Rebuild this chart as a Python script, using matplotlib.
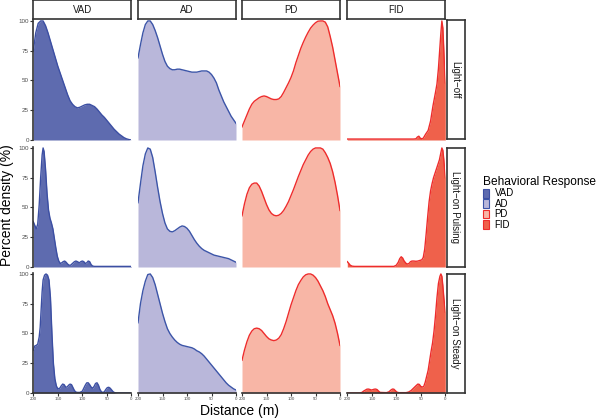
import matplotlib
matplotlib.use('Agg')
import matplotlib.pyplot as plt
from matplotlib.patches import Patch

plt.rcParams['font.family'] = ['Liberation Sans', 'DejaVu Sans']

### data: percent density vs distance (m)
responses = ['VAD', 'AD', 'PD', 'FID']
lights = ['Light\u2212off', 'Light\u2212on Pulsing', 'Light\u2212on Steady']
x_ticks = [200, 150, 100, 50, 0]
y_ticks = [0, 25, 50, 75, 100]

dist5 = [200, 195, 190, 185, 180, 175, 170, 165, 160, 155, 150, 145, 140, 135, 130, 125, 120,
         115, 110, 105, 100, 95, 90, 85, 80, 75, 70, 65, 60, 55, 50, 45, 40, 35, 30, 25, 20,
         15, 10, 5, 0]

vad_off = [75, 90, 98, 100, 100, 96, 90, 83, 76, 69, 62, 56, 50, 44, 38, 33, 30, 28, 27, 27.5,
           28.5, 29.5, 30, 30, 29, 28, 26, 23.5, 21, 19, 16.5, 14, 11.5, 9, 7, 5, 3.5, 2, 1, 0.4, 0]
ad_off = [69, 80, 90, 97, 100, 100, 97, 92, 86, 79, 72, 66, 62, 60, 59, 59, 59.5, 59.5, 59, 58.5,
          58, 57.5, 57, 57, 57, 57.5, 58, 58, 58, 57, 55, 52, 48, 42, 37, 32, 28, 24, 20, 17, 14]
pd_off = [11, 16, 21, 26, 30, 32.5, 34, 35.5, 36.5, 37, 36.5, 35.5, 34.5, 34, 34, 34.5, 36.5, 40,
          44, 48, 52.5, 58, 65, 71, 77, 82, 86.5, 90.5, 94, 96.5, 98.5, 99.8, 100, 100, 99, 95, 87,
          78, 67, 56, 45]
fid_off_d = [200, 100, 65, 60, 57, 54, 51, 48, 45, 40, 35, 30, 25, 20, 17, 14, 11, 9, 7, 5, 3, 1, 0]
fid_off = [0.8, 0.8, 0.8, 1, 2.5, 3.2, 1.5, 1, 1.5, 5, 8, 16, 29, 40, 47, 60, 78, 90, 100, 94, 75,
           55, 48]

vad_pulse_d = [200, 197, 194, 191, 188, 185, 182, 180, 178, 175, 172, 169, 166, 163, 160, 157, 154,
               151, 148, 145, 142, 139, 136, 133, 130, 127, 124, 120, 116, 113, 110, 106, 103, 100,
               97, 94, 91, 88, 85, 82, 79, 75, 0]
vad_pulse = [38, 35, 32, 36, 52, 75, 94, 100, 97, 82, 62, 48, 41, 37, 32, 24, 16, 9, 5, 3, 3.5, 4.5,
             5, 4, 2.5, 1.5, 1.5, 3, 4.5, 5, 4.5, 3.5, 4.5, 5, 4.5, 3, 3.5, 5, 4.5, 2, 0.8, 0.5, 0.5]
ad_pulse = [54, 70, 85, 95, 100, 99, 92, 80, 67, 55, 45, 37, 32, 30, 29.5, 30.5, 32, 33.5, 34.5, 34,
            32.5, 30, 26.5, 23, 20, 17.5, 15.5, 14, 13, 12, 11, 10, 9.5, 9, 8.5, 8, 7.5, 7, 6, 5, 4]
pd_pulse = [43, 53, 61, 66.5, 69.5, 70.5, 70.5, 68, 63.5, 58, 52.5, 48, 45, 43.5, 43, 43.5, 45,
            47.5, 51, 55, 60, 65, 70.5, 76, 81, 86, 90, 94, 97, 99, 100, 100, 100, 99, 96, 92, 87,
            80, 71, 60, 47.5]
fid_pulse_d = [200, 197, 194, 190, 185, 105, 100, 96, 93, 90, 87, 84, 80, 77, 74, 71, 68, 64, 60,
               56, 52, 48, 45, 42, 39, 36, 33, 30, 27, 24, 20, 16, 12, 9, 7, 5, 3, 1, 0]
fid_pulse = [4.5, 3, 1.5, 0.7, 0.5, 0.5, 1.5, 4, 7, 8.6, 7.5, 5, 3, 2.5, 3, 4.5, 5, 5, 4.8, 5, 5.5,
             6, 8, 15, 28, 42, 55, 64, 70, 75, 80, 85, 90, 96, 100, 98, 90, 80, 75]

vad_steady_d = [200, 197, 194, 191, 188, 186, 184, 182, 180, 177, 174, 171, 168, 165, 162, 159,
                156, 153, 150, 146, 143, 140, 137, 134, 131, 128, 125, 122, 119, 116, 113, 110,
                105, 100, 97, 94, 91, 88, 85, 82, 79, 76, 73, 70, 67, 64, 61, 58, 55, 52, 49, 46,
                43, 40, 37, 34, 30, 0]
vad_steady = [36, 39.5, 40, 41, 47, 55, 70, 85, 95, 99, 100, 99, 95, 80, 50, 25, 12, 6, 3.5, 4, 6,
              7.5, 7, 5, 5, 6.5, 7.5, 7, 4.5, 2, 0.8, 0.5, 0.5, 1.5, 4, 6.5, 8.5, 8.6, 7, 5, 4, 5.5,
              8, 8.6, 6.5, 3, 1, 0.5, 1, 3, 4.5, 4.8, 4, 2.5, 1, 0.3, 0, 0]
ad_steady = [59, 75, 86, 94, 99.5, 100, 97, 91, 83, 75, 67, 60, 54, 50, 47, 44.5, 42.5, 41, 40,
             39.5, 39, 38.5, 38, 37, 35.5, 34.5, 33, 31, 28.5, 26, 23.5, 21, 18.5, 16, 13.5, 11,
             8.5, 6.5, 5, 3.5, 2.5]
pd_steady = [27.5, 36, 43, 48.5, 52, 54, 54.5, 54, 52.5, 50, 47.5, 45.5, 44.5, 44, 44.5, 46, 49,
             54, 60, 67, 74, 80, 86, 91, 94.5, 97.5, 99.3, 100, 100, 99, 97, 94, 90, 86, 81, 75,
             70, 65, 58.5, 50, 40]
fid_steady_d = [200, 175, 170, 167, 163, 160, 157, 154, 151, 148, 145, 142, 139, 136, 133, 120,
                115, 111, 108, 105, 102, 99, 95, 80, 75, 70, 65, 60, 56, 53, 50, 47, 44, 41, 38,
                35, 32, 29, 26, 23, 20, 17, 14, 11, 9, 7, 5, 3, 1, 0]
fid_steady = [0, 0, 0.5, 1.5, 2.5, 3.2, 3.3, 3, 2.5, 2.8, 3.2, 3.3, 2.8, 1.5, 0.5, 0.3, 1, 2.5,
              3.3, 3.2, 2, 0.8, 0.3, 0.3, 0.8, 2, 4, 6, 7.5, 7.2, 5.5, 5, 5.5, 9, 14, 19, 27, 35,
              42, 52, 65, 80, 92, 98, 100, 98, 90, 80, 72, 68]

panels = [
    [(dist5, vad_off), (dist5, ad_off), (dist5, pd_off), (fid_off_d, fid_off)],
    [(vad_pulse_d, vad_pulse), (dist5, ad_pulse), (dist5, pd_pulse), (fid_pulse_d, fid_pulse)],
    [(vad_steady_d, vad_steady), (dist5, ad_steady), (dist5, pd_steady), (fid_steady_d, fid_steady)],
]

fills = ['#5E6BAF', '#B9B7DA', '#F8B6A6', '#EF614B']
lines = ['#3C4FA3', '#3C55A8', '#EE2C2C', '#EE2C2C']
dark = '#333333'

W, H = 604, 419
fig = plt.figure(figsize=(W / 100, H / 100), dpi=100)


def px_axes(x, y, w, h):
    # axes from pixel box (top-left origin)
    return fig.add_axes([x / W, 1 - (y + h) / H, w / W, h / H])


col_left = [33.3, 138, 242, 347.3]
row_top = [20, 147, 273]
pw, ph = 98, 120

for r in range(3):
    for c in range(4):
        ax = px_axes(col_left[c], row_top[r], pw, ph)
        d, v = panels[r][c]
        ax.fill_between(d, v, 0, color=fills[c], lw=0)
        ax.plot(d, v, color=lines[c], lw=1.0)
        ax.set_xlim(200, 0)
        ax.set_ylim(0, 100.8)
        for s in ax.spines.values():
            s.set_visible(False)
        if c == 0:
            ax.spines['left'].set_visible(True)
            ax.spines['left'].set_color(dark)
            ax.spines['left'].set_linewidth(1.2)
            ax.set_yticks(y_ticks)
            ax.tick_params(axis='y', length=2, width=0.8, color=dark, labelsize=4.5,
                           labelcolor='#4d4d4d', pad=1)
        else:
            ax.set_yticks([])
        if r == 2:
            ax.spines['bottom'].set_visible(True)
            ax.spines['bottom'].set_color(dark)
            ax.spines['bottom'].set_linewidth(1.2)
            ax.set_xticks(x_ticks)
            ax.tick_params(axis='x', length=2, width=0.8, color=dark, labelsize=3.2,
                           labelcolor='#4d4d4d', pad=1)
        else:
            ax.set_xticks([])

### strips
for c in range(4):
    sx = px_axes(col_left[c], 0.5, pw, 18.5)
    sx.set_xticks([])
    sx.set_yticks([])
    for s in sx.spines.values():
        s.set_color(dark)
        s.set_linewidth(1.2)
    sx.text(0.5, 0.5, responses[c], ha='center', va='center', fontsize=7, color='#1a1a1a',
            transform=sx.transAxes)

for r in range(3):
    sx = px_axes(446.5, row_top[r] + 0.5, 18, ph - 1)
    sx.set_xticks([])
    sx.set_yticks([])
    for s in sx.spines.values():
        s.set_color(dark)
        s.set_linewidth(1.2)
    sx.text(0.5, 0.5, lights[r], ha='center', va='center', rotation=-90, fontsize=7,
            color='#1a1a1a', transform=sx.transAxes)

fig.text(7 / W, 1 - 205 / H, 'Percent density (%)', rotation=90, ha='center', va='center',
         fontsize=10)
fig.text(240 / W, 1 - 411 / H, 'Distance (m)', ha='center', va='center', fontsize=10)

handles = [Patch(facecolor=fills[i], edgecolor=lines[i], lw=0.8, label=responses[i])
           for i in range(4)]
leg = fig.legend(handles=handles, title='Behavioral Response', loc='upper left',
                 bbox_to_anchor=(483 / W, 1 - 176 / H), frameon=False, fontsize=7,
                 title_fontsize=8.6, handlelength=0.6, handleheight=1.0, labelspacing=0.05,
                 handletextpad=0.6, borderpad=0, borderaxespad=0)
leg._legend_box.align = 'left'

fig.savefig('out.png', dpi=100)
